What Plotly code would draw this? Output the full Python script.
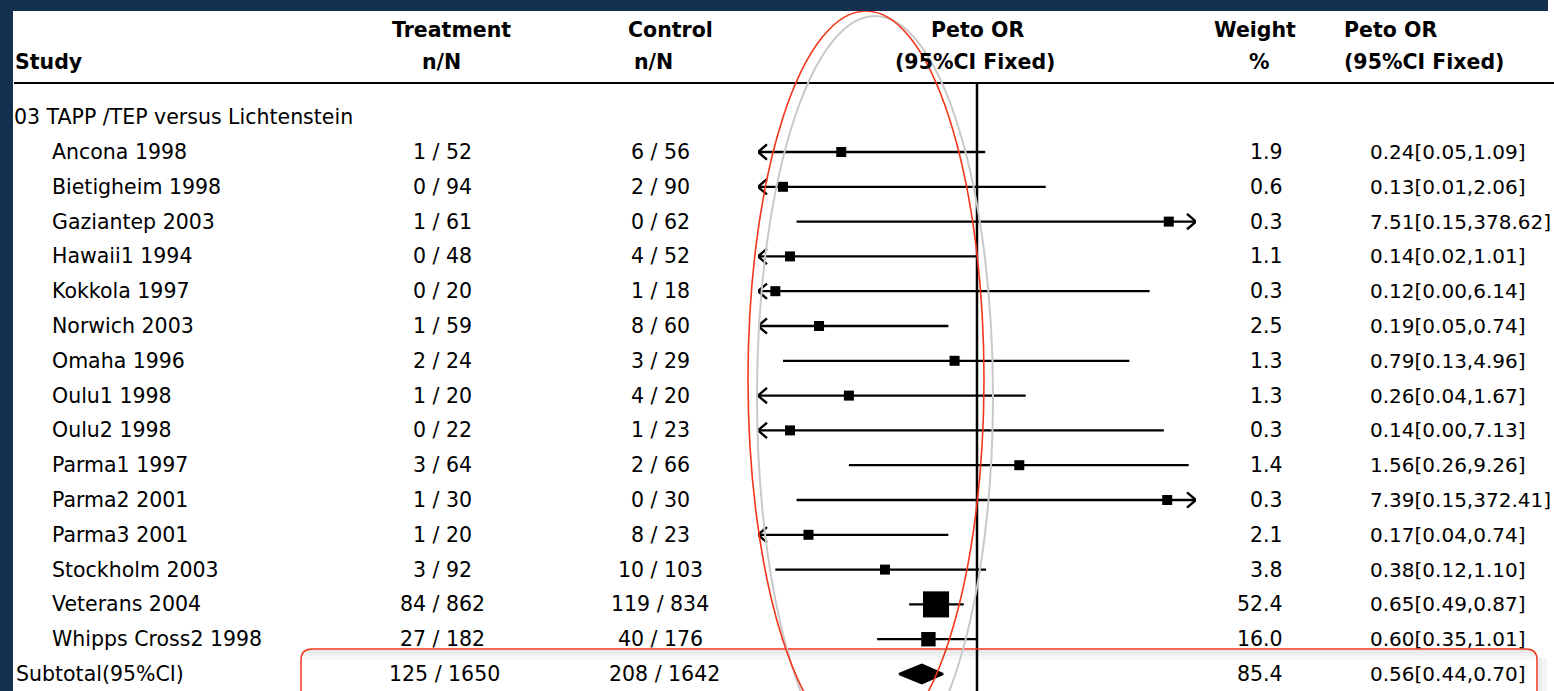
import plotly.graph_objects as go

W, H = 1554, 691

# ---- data ----
group_title = "03 TAPP /TEP versus Lichtenstein"
studies = ["Ancona 1998", "Bietigheim 1998", "Gaziantep 2003", "Hawaii1 1994",
           "Kokkola 1997", "Norwich 2003", "Omaha 1996", "Oulu1 1998",
           "Oulu2 1998", "Parma1 1997", "Parma2 2001", "Parma3 2001",
           "Stockholm 2003", "Veterans 2004", "Whipps Cross2 1998"]
treat_n = [1, 0, 1, 0, 0, 1, 2, 1, 0, 3, 1, 1, 3, 84, 27]
treat_N = [52, 94, 61, 48, 20, 59, 24, 20, 22, 64, 30, 20, 92, 862, 182]
ctrl_n = [6, 2, 0, 4, 1, 8, 3, 4, 1, 2, 0, 8, 10, 119, 40]
ctrl_N = [56, 90, 62, 52, 18, 60, 29, 20, 23, 66, 30, 23, 103, 834, 176]
weight = [1.9, 0.6, 0.3, 1.1, 0.3, 2.5, 1.3, 1.3, 0.3, 1.4, 0.3, 2.1, 3.8, 52.4, 16.0]
peto_or = [0.24, 0.13, 7.51, 0.14, 0.12, 0.19, 0.79, 0.26, 0.14, 1.56, 7.39, 0.17, 0.38, 0.65, 0.60]
ci_low = [0.05, 0.01, 0.15, 0.02, 0.00, 0.05, 0.13, 0.04, 0.00, 0.26, 0.15, 0.04, 0.12, 0.49, 0.35]
ci_high = [1.09, 2.06, 378.62, 1.01, 6.14, 0.74, 4.96, 1.67, 7.13, 9.26, 372.41, 0.74, 1.10, 0.87, 1.01]

subtotal_label = "Subtotal(95%CI)"
subtotal_treat = (125, 1650)
subtotal_ctrl = (208, 1642)
subtotal_weight = 85.4
subtotal_or, subtotal_low, subtotal_high = 0.56, 0.44, 0.70

OR_MIN, OR_MAX = 0.1, 10.0

# ---- layout helpers (pixel -> paper) ----
def px(x):
    return x / W

def py(y):
    return 1 - y / H

FONT = "DejaVu Sans"
FS = 20.5
BLACK = "#000000"
NAVY = "#14304f"
RED = "#f2361c"

n = len(studies)
rows = list(range(n))
sub_row = n
title_row = -1
hline_row = -1.98
head2_row = -2.59
head1_row = -3.51

fig = go.Figure()

# confidence-interval lines, clipped to the axis with chevrons where they run off
lx, ly, ax_, ay_ = [], [], [], []
f = 10 ** (9 / 219)
for r, lo, hi in zip(rows, ci_low, ci_high):
    lo_c, hi_c = max(lo, OR_MIN), min(hi, OR_MAX)
    lx += [lo_c, hi_c, None]
    ly += [r, r, None]
    if lo < OR_MIN:
        ax_ += [OR_MIN * f, OR_MIN, OR_MIN * f, None]
        ay_ += [r - 0.22, r, r + 0.22, None]
    if hi > OR_MAX:
        ax_ += [OR_MAX / f, OR_MAX, OR_MAX / f, None]
        ay_ += [r - 0.22, r, r + 0.22, None]

fig.add_trace(go.Scatter(x=lx, y=ly, mode="lines",
                         line=dict(color=BLACK, width=2.3), hoverinfo="skip"))
fig.add_trace(go.Scatter(x=ax_, y=ay_, mode="lines",
                         line=dict(color=BLACK, width=2.4), hoverinfo="skip"))

# line of no effect
fig.add_trace(go.Scatter(x=[1, 1], y=[hline_row, 15.6], mode="lines",
                         line=dict(color=BLACK, width=2.5), hoverinfo="skip"))

# study estimates, square size grows with weight
sizes = [max(10, 3.6 * w ** 0.5) for w in weight]
fig.add_trace(go.Scatter(x=peto_or, y=rows, mode="markers",
                         marker=dict(symbol="square", size=sizes, color=BLACK,
                                     opacity=1, line=dict(width=0)),
                         hoverinfo="skip"))

# pooled estimate diamond
fig.add_trace(go.Scatter(
    x=[subtotal_low, subtotal_or, subtotal_high, subtotal_or, subtotal_low],
    y=[sub_row, sub_row - 0.27, sub_row, sub_row + 0.27, sub_row],
    mode="lines", fill="toself", fillcolor=BLACK,
    line=dict(color=BLACK, width=2), hoverinfo="skip"))

ann = []

def txt(x, y, s, anchor="left", bold=False, size=FS):
    ann.append(dict(x=px(x), y=y, xref="paper", yref="y", text=s,
                    showarrow=False, xanchor=anchor, yanchor="middle",
                    borderpad=0,
                    font=dict(family=FONT, size=size, color=BLACK,
                              weight="bold" if bold else "normal")))

# column headers
txt(14, head2_row, "Study", bold=True)
txt(451, head1_row, "Treatment", "center", True)
txt(441, head2_row, "n/N", "center", True)
txt(670, head1_row, "Control", "center", True)
txt(653, head2_row, "n/N", "center", True)
txt(977, head1_row, "Peto OR", "center", True)
txt(975, head2_row, "(95%CI Fixed)", "center", True)
txt(1255, head1_row, "Weight", "center", True)
txt(1259, head2_row, "%", "center", True)
txt(1343, head1_row, "Peto OR", "left", True)
txt(1343, head2_row, "(95%CI Fixed)", "left", True)

txt(13, title_row, group_title)

OR_FS = 20
for r in rows:
    txt(51, r, studies[r])
    txt(442, r, f"{treat_n[r]} / {treat_N[r]}", "center")
    txt(660, r, f"{ctrl_n[r]} / {ctrl_N[r]}", "center")
    txt(1284, r, f"{weight[r]:.1f}", "right")
    txt(1369, r, f"{peto_or[r]:.2f}[{ci_low[r]:.2f},{ci_high[r]:.2f}]", size=OR_FS)

txt(15, sub_row, subtotal_label)
txt(444, sub_row, f"{subtotal_treat[0]} / {subtotal_treat[1]}", "center")
txt(664, sub_row, f"{subtotal_ctrl[0]} / {subtotal_ctrl[1]}", "center")
txt(1284, sub_row, f"{subtotal_weight:.1f}", "right")
txt(1369, sub_row, f"{subtotal_or:.2f}[{subtotal_low:.2f},{subtotal_high:.2f}]", size=OR_FS)

shapes = []
# header rule
shapes.append(dict(type="line", xref="paper", yref="paper",
                   x0=px(14), x1=1, y0=py(83), y1=py(83),
                   line=dict(color=BLACK, width=2)))

# soft shadow inside the highlight box
for (ya, yb, c) in [(650, 653, "#e9e9e9"), (653, 656, "#f1f1f1"), (656, 660, "#f7f7f7")]:
    shapes.append(dict(type="rect", xref="paper", yref="paper", layer="below",
                       x0=px(303), x1=px(1535), y0=py(ya), y1=py(yb),
                       line=dict(width=0), fillcolor=c))
for (xa, xb, c) in [(1538, 1542, "#ececec"), (1542, 1547, "#f5f5f5")]:
    shapes.append(dict(type="rect", xref="paper", yref="paper", layer="below",
                       x0=px(xa), x1=px(xb), y0=py(658), y1=py(700),
                       line=dict(width=0), fillcolor=c))

# highlight box around the subtotal row (rounded top corners)
x0, x1, y0, yb, rr = 301, 1537, 649, 720, 11
path = (f"M {px(x0)},{py(yb)} L {px(x0)},{py(y0 + rr)} "
        f"Q {px(x0)},{py(y0)} {px(x0 + rr)},{py(y0)} "
        f"L {px(x1 - rr)},{py(y0)} Q {px(x1)},{py(y0)} {px(x1)},{py(y0 + rr)} "
        f"L {px(x1)},{py(yb)}")
shapes.append(dict(type="path", xref="paper", yref="paper", path=path,
                   line=dict(color=RED, width=1.5), layer="above"))

# highlight ellipse with its grey shadow
shapes.append(dict(type="circle", xref="paper", yref="paper", layer="above",
                   x0=px(757), x1=px(993), y0=py(16), y1=py(776),
                   line=dict(color="#c9c9c9", width=2)))
shapes.append(dict(type="circle", xref="paper", yref="paper", layer="above",
                   x0=px(748), x1=px(984), y0=py(11), y1=py(747),
                   line=dict(color=RED, width=1.6)))

# frame
shapes.append(dict(type="rect", xref="paper", yref="paper", layer="above",
                   x0=0, x1=px(1548), y0=py(11), y1=1.02,
                   line=dict(width=0), fillcolor=NAVY))
shapes.append(dict(type="rect", xref="paper", yref="paper", layer="above",
                   x0=-0.01, x1=px(13), y0=-0.02, y1=1.02,
                   line=dict(width=0), fillcolor=NAVY))

fig.update_layout(
    width=W, height=H,
    margin=dict(l=0, r=0, t=0, b=0),
    paper_bgcolor="white", plot_bgcolor="white",
    showlegend=False,
    annotations=ann, shapes=shapes,
    xaxis=dict(type="log", range=[-1, 1], domain=[px(758), px(1196)],
               visible=False, showgrid=False, zeroline=False),
    yaxis=dict(range=[(H - 152) / 34.8, -152 / 34.8], domain=[0, 1],
               visible=False, showgrid=False, zeroline=False),
)

fig.write_html("out.html")
